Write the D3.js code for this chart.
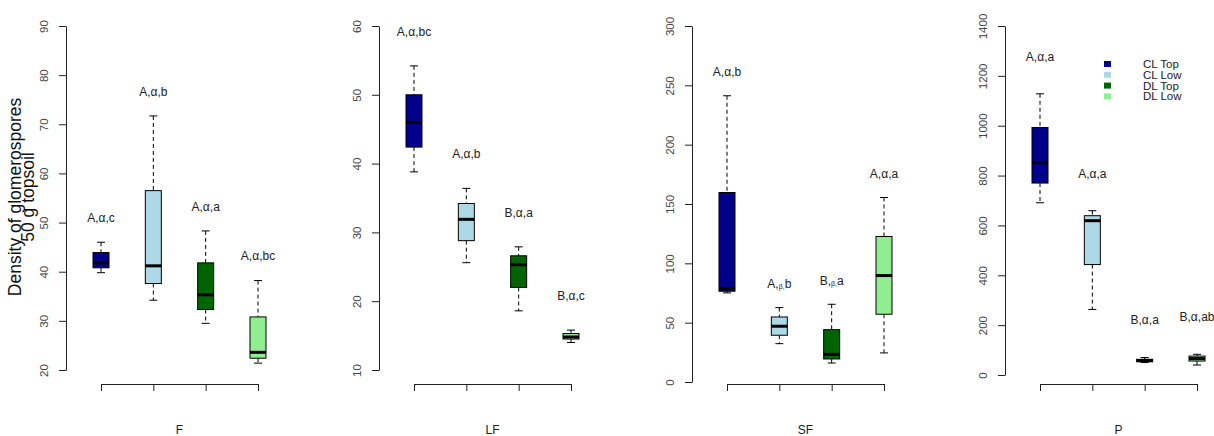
<!DOCTYPE html>
<html>
<head>
<meta charset="utf-8">
<script src="https://cdn.jsdelivr.net/npm/d3@7.9.0/dist/d3.min.js"></script>
<style>
  body { margin: 0; background: #fff; }
  text { font-family: "Liberation Sans", Arial, sans-serif; }
</style>
</head>
<body>
<svg id="chart" width="1214" height="436"></svg>
<script>
// Groups and their fill colours
const groups = ['CL Top', 'CL Low', 'DL Top', 'DL Low'];
const groupColors = ['#00008B', '#ADD8E6', '#006400', '#90EE90'];

const panelNames = ['F', 'LF', 'SF', 'P'];

// Box stats per group: [lower whisker, Q1, median, Q3, upper whisker]
const statsF = [
  [39.8, 40.8, 41.8, 43.9, 46.0],
  [34.2, 37.6, 41.2, 56.5, 71.7],
  [29.5, 32.3, 35.3, 41.8, 48.3],
  [21.4, 22.4, 23.6, 30.8, 38.2]
];
const statsLF = [
  [38.8, 42.4, 46.0, 50.0, 54.2],
  [25.6, 28.8, 31.9, 34.2, 36.4],
  [18.6, 22.0, 25.3, 26.6, 27.9],
  [14.0, 14.5, 14.8, 15.3, 15.8]
];
const statsSF = [
  [75.1, 76.5, 78.4, 159.7, 241.2],
  [32.3, 39.4, 47.0, 54.8, 62.7],
  [16.0, 19.4, 23.3, 44.1, 65.5],
  [24.5, 57.1, 89.7, 122.6, 155.5]
];
const statsP = [
  [691, 770, 852, 993, 1128],
  [263, 443, 619, 639, 659],
  [50, 53, 58, 63, 70],
  [40, 56, 66, 76, 83]
];

// Significance letters above each box
const lettersF = ['A,α,c', 'A,α,b', 'A,α,a', 'A,α,bc'];
const lettersLF = ['A,α,bc', 'A,α,b', 'B,α,a', 'B,α,c'];
const lettersSF = ['A,α,b', 'A,β,b', 'B,β,a', 'A,α,a'];
const lettersP = ['A,α,a', 'A,α,a', 'B,α,a', 'B,α,ab'];

// Y axis ticks
const ticksF = [20, 30, 40, 50, 60, 70, 80, 90];
const ticksLF = [10, 20, 30, 40, 50, 60];
const ticksSF = [0, 50, 100, 150, 200, 250, 300];
const ticksP = [0, 200, 400, 600, 800, 1000, 1200, 1400];

const panels = [
  { name: panelNames[0], stats: statsF, letters: lettersF, ticks: ticksF, axisX: 66, bottom: 370, labelGap: 5 },
  { name: panelNames[1], stats: statsLF, letters: lettersLF, ticks: ticksLF, axisX: 379, bottom: 370, labelGap: 5 },
  { name: panelNames[2], stats: statsSF, letters: lettersSF, ticks: ticksSF, axisX: 692, bottom: 382, labelGap: 20 },
  { name: panelNames[3], stats: statsP, letters: lettersP, ticks: ticksP, axisX: 1005, bottom: 375, labelGap: 150 }
];

const svg = d3.select('#chart');
const plotTop = 26;
const xAxisY = 384;
const boxHalf = 8;
const capHalf = 4;

panels.forEach((p) => {
  const y = d3.scaleLinear()
    .domain([p.ticks[0], p.ticks[p.ticks.length - 1]])
    .range([p.bottom, plotTop]);

  const x = d3.scalePoint()
    .domain(groups)
    .range([p.axisX + 35, p.axisX + 192]);

  const g = svg.append('g');

  // Y axis with rotated labels
  const yAxis = g.append('g')
    .attr('transform', `translate(${p.axisX},0)`)
    .call(d3.axisLeft(y).tickValues(p.ticks).tickSize(7).tickSizeOuter(0).tickFormat(''));
  yAxis.selectAll('.tick')
    .append('text')
    .attr('transform', 'translate(-18,0) rotate(-90)')
    .attr('text-anchor', 'middle')
    .attr('fill', '#444')
    .attr('font-size', 11.5)
    .text((d) => d);

  // X axis (ticks only)
  g.append('g')
    .attr('transform', `translate(0,${xAxisY})`)
    .call(d3.axisBottom(x).tickSize(7).tickSizeOuter(0).tickFormat(''));

  g.selectAll('.domain, .tick line').attr('stroke', '#222');

  // Panel name
  g.append('text')
    .attr('x', (x(groups[0]) + x(groups[3])) / 2)
    .attr('y', 434)
    .attr('text-anchor', 'middle')
    .attr('font-size', 12)
    .attr('fill', '#222')
    .text(p.name);

  const boxes = g.selectAll('.box')
    .data(p.stats.map((s, i) => ({ s, group: groups[i], color: groupColors[i], letter: p.letters[i] })))
    .join('g')
    .attr('class', 'box')
    .attr('transform', (d) => `translate(${x(d.group)},0)`);

  // Whiskers (dashed)
  boxes.append('line')
    .attr('y1', (d) => y(d.s[4])).attr('y2', (d) => y(d.s[3]))
    .attr('stroke', '#000').attr('stroke-dasharray', '4,3');
  boxes.append('line')
    .attr('y1', (d) => y(d.s[1])).attr('y2', (d) => y(d.s[0]))
    .attr('stroke', '#000').attr('stroke-dasharray', '4,3');

  // Staples
  [0, 4].forEach((k) => {
    boxes.append('line')
      .attr('x1', -capHalf).attr('x2', capHalf)
      .attr('y1', (d) => y(d.s[k])).attr('y2', (d) => y(d.s[k]))
      .attr('stroke', '#000');
  });

  // Box
  boxes.append('rect')
    .attr('x', -boxHalf)
    .attr('width', boxHalf * 2)
    .attr('y', (d) => y(d.s[3]))
    .attr('height', (d) => Math.max(1, y(d.s[1]) - y(d.s[3])))
    .attr('fill', (d) => d.color)
    .attr('stroke', '#000');

  // Median
  boxes.append('line')
    .attr('x1', -boxHalf).attr('x2', boxHalf)
    .attr('y1', (d) => y(d.s[2])).attr('y2', (d) => y(d.s[2]))
    .attr('stroke', '#000').attr('stroke-width', 3);

  // Letters
  const lbl = boxes.append('text')
    .attr('y', (d) => y(d.s[4] + p.labelGap))
    .attr('dy', '0.35em')
    .attr('text-anchor', 'middle')
    .attr('font-size', 12)
    .attr('fill', '#222');
  lbl.each(function (d) {
    const parts = d.letter.split(',');
    const t = d3.select(this);
    parts.forEach((part, i) => {
      const small = part === 'β';
      t.append('tspan')
        .attr('font-size', small ? 7 : null)
        .attr('baseline-shift', small ? '-1' : null)
        .text(part + (i < parts.length - 1 ? ',' : ''));
    });
  });
});

// Y axis title
const title = svg.append('g').attr('transform', 'translate(0,197)');
title.append('text')
  .attr('transform', 'translate(21,0) rotate(-90)')
  .attr('text-anchor', 'middle')
  .attr('font-size', 17.5)
  .attr('fill', '#111')
  .text('Density of glomerospores');
title.append('text')
  .attr('transform', 'translate(34,0) rotate(-90)')
  .attr('text-anchor', 'middle')
  .attr('font-size', 17.5)
  .attr('fill', '#111')
  .text('50 g topsoil');

// Legend
const legend = svg.append('g').attr('transform', 'translate(1104,61)');
const rows = legend.selectAll('g')
  .data(groups)
  .join('g')
  .attr('transform', (d, i) => `translate(0,${i * 10.8})`);
rows.append('rect')
  .attr('width', 7).attr('height', 6)
  .attr('fill', (d, i) => groupColors[i]);
rows.append('text')
  .attr('x', 39).attr('y', 3)
  .attr('dy', '0.35em')
  .attr('font-size', 11.5)
  .attr('fill', '#222')
  .text((d) => d);
</script>
</body>
</html>
